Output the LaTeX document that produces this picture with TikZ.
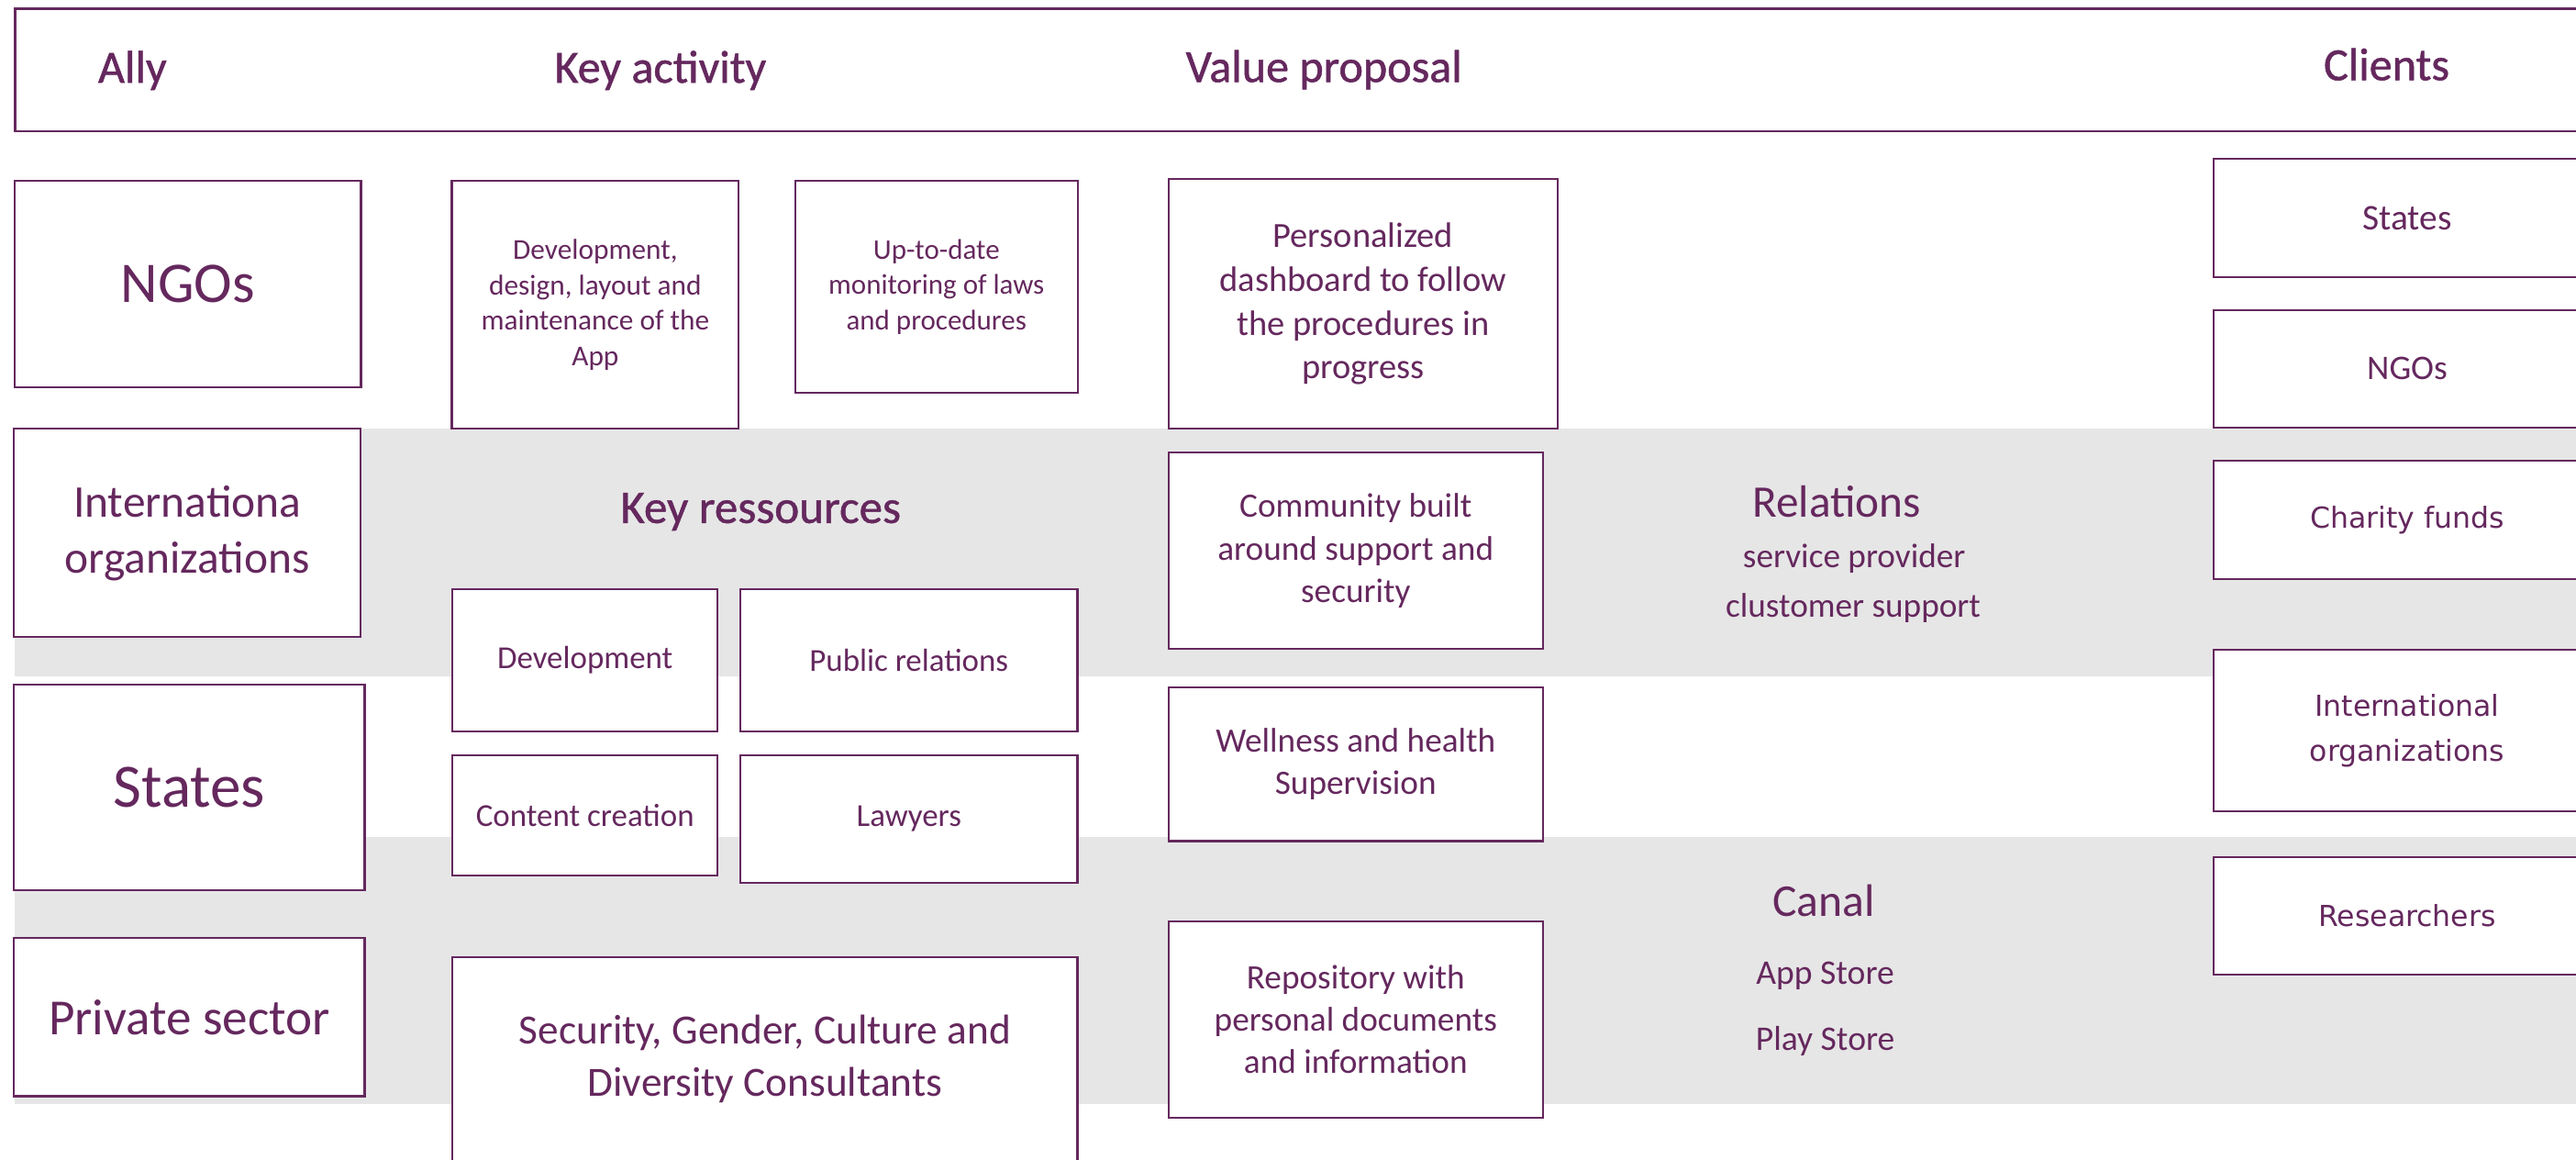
\documentclass[tikz,border=0pt]{standalone}
\usepackage{fontspec}
\setmainfont{Carlito}
\newfontfamily\hfont[FakeBold=1]{Carlito}
\newfontfamily\vfont{DejaVu Sans}
\definecolor{plum}{RGB}{101,40,94}
\definecolor{band}{RGB}{230,230,230}
\begin{document}
\begin{tikzpicture}[x=1pt,y=-1pt]
\tikzset{
  box/.style={draw=plum, line width=1.2pt, fill=white, inner sep=0pt, align=center, text=plum},
  lbl/.style={text=plum, inner sep=0pt, align=center},
  head/.style={lbl, anchor=base, font=\hfont\fontsize{28}{34}\selectfont},
  sub/.style={lbl, anchor=base, font=\fontsize{20.8}{25.8}\selectfont},
  cli/.style={box, minimum width=235.5pt, font=\vfont\fontsize{17.6}{27.7}\selectfont},
  vbox/.style={box, minimum width=227.6pt, font=\fontsize{20.8}{25.8}\selectfont},
  rbox/.style={box, font=\fontsize{19.5}{24}\selectfont},
}
\clip (0,0) rectangle (1568,705.3);
\fill[white] (0,0) rectangle (1568,705.3);
\fill[band] (9,261) rectangle (1600,411.5);
\fill[band] (9,509) rectangle (1600,672);
% header bar
\node[draw=plum, line width=1.3pt, inner sep=0pt, minimum width=1590.7pt, minimum height=74.7pt] (hdr) at (804.65,42.65) {};
\node[head] (hAlly) at (80.6,50.3) {Ally};
\node[head] (hKey) at (402,50.3) {Key activity};
\node[head] (hVal) at (805.9,49.9) {Value proposal};
\node[head] (hCli) at (1452.7,48.8) {Clients};
% ally column
\node[box, minimum width=210.7pt, minimum height=125.7pt, font=\fontsize{35}{42}\selectfont] (aNGO) at (114.35,172.65) {NGOs};
\node[box, minimum width=211pt, minimum height=126.6pt, font=\fontsize{27.6}{34}\selectfont] (aIntl) at (114,324.3) {Internationa\\organizations};
\node[box, minimum width=213.5pt, minimum height=125.1pt, font=\fontsize{37.5}{44}\selectfont] (aStates) at (115.25,479.05) {States};
\node[box, minimum width=213.5pt, minimum height=96.3pt, font=\fontsize{30.8}{36}\selectfont] (aPriv) at (115.25,618.85) {Private sector};
% key activity
\node[box, minimum width=174.7pt, minimum height=151pt, font=\fontsize{17.5}{21.5}\selectfont] (kDev) at (362.35,185.5) {Development,\\design, layout and\\maintenance of the\\App};
\node[box, minimum width=172pt, minimum height=129pt, font=\fontsize{17.3}{21.5}\selectfont] (kMon) at (570,174.5) {Up-to-date\\monitoring of laws\\and procedures};
% key resources
\node[head, font=\hfont\fontsize{28.5}{34}\selectfont] (rHead) at (463,318.2) {Key ressources};
\node[rbox, minimum width=161.2pt, minimum height=86.6pt] (rDev) at (356.1,401.7) {Development};
\node[rbox, minimum width=205.1pt, minimum height=86.6pt] (rPR) at (553.25,401.7) {Public relations};
\node[rbox, minimum width=161.2pt, minimum height=73.2pt] (rCont) at (356.1,496.3) {Content creation};
\node[rbox, minimum width=205.1pt, minimum height=77.3pt] (rLaw) at (553.25,498.35) {Lawyers};
\node[box, minimum width=380.3pt, minimum height=147.7pt] (rSec) at (465.65,656.15) {};
\node[lbl, font=\fontsize{25.3}{31.8}\selectfont] (rSecT) at (465.65,644.15) {Security, Gender, Culture and\\Diversity Consultants};
% value proposal
\node[box, minimum width=236.6pt, minimum height=152pt, font=\fontsize{21.5}{26.6}\selectfont] (vDash) at (829.7,185) {Personalized\\dashboard to follow\\the procedures in\\progress};
\node[vbox, minimum height=119.7pt] (vComm) at (825.2,335.15) {Community built\\around support and\\security};
\node[vbox, minimum height=93.5pt] (vWell) at (825.2,465.05) {Wellness and health\\Supervision};
\node[vbox, minimum height=119.3pt] (vRepo) at (825.2,620.35) {Repository with\\personal documents\\and information};
% relations and channels
\node[lbl, anchor=base, font=\fontsize{27.5}{33}\selectfont] (relHead) at (1118,314.4) {Relations};
\node[sub] (rel1) at (1128.6,345.4) {service provider};
\node[sub] (rel2) at (1128,375.7) {clustomer support};
\node[lbl, anchor=base, font=\fontsize{27.7}{33}\selectfont] (canHead) at (1110,557.5) {Canal};
\node[sub, font=\fontsize{21}{26}\selectfont] (can1) at (1111,599) {App Store};
\node[sub, font=\fontsize{21}{26}\selectfont] (can2) at (1111,639.2) {Play Store};
% clients
\node[box, minimum width=235.5pt, minimum height=71.6pt, font=\fontsize{22}{26}\selectfont] (cStates) at (1465.25,132.6) {States};
\node[box, minimum width=235.5pt, minimum height=71.5pt, font=\fontsize{21}{26}\selectfont] (cNGO) at (1465.25,224.25) {NGOs};
\node[cli, minimum height=71.8pt] (cChar) at (1465.25,316.4) {Charity funds};
\node[cli, minimum height=98.4pt] (cIntl) at (1465.25,444.6) {International\\organizations};
\node[cli, minimum height=71.4pt] (cRes) at (1465.25,557.1) {Researchers};
\end{tikzpicture}
\end{document}
